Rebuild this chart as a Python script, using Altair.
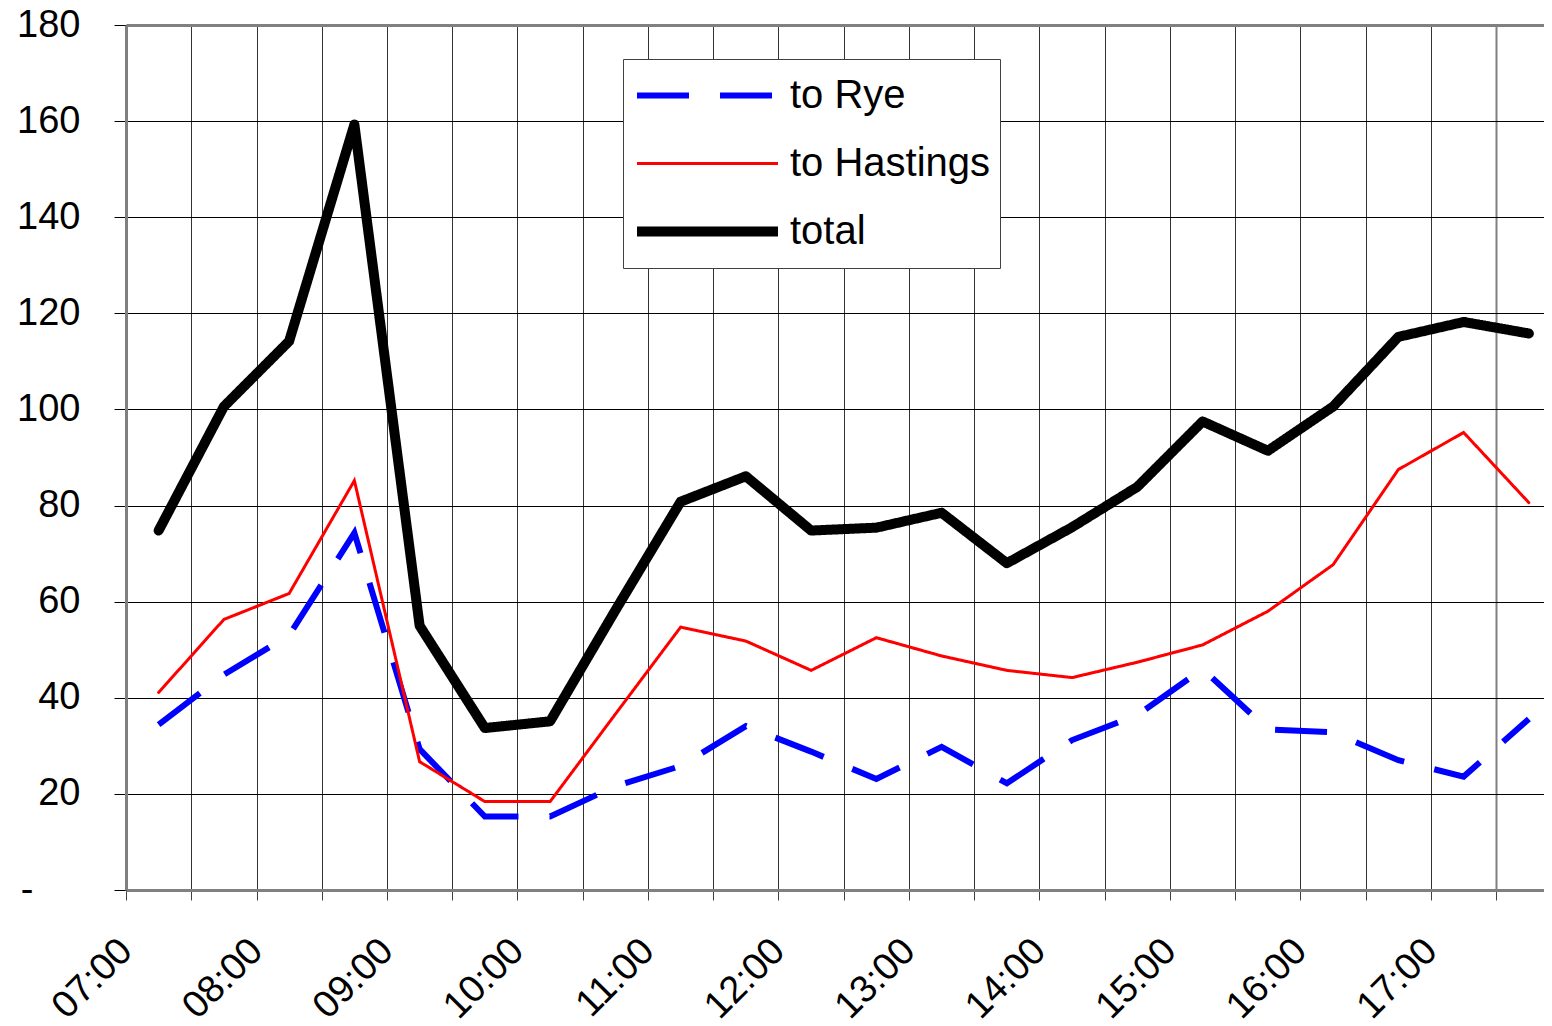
import altair as alt
import pandas as pd

# ---- data ----
times = ["07:15", "07:45", "08:15", "08:45", "09:15", "09:45", "10:15", "10:45",
         "11:15", "11:45", "12:15", "12:45", "13:15", "13:45", "14:15", "14:45",
         "15:15", "15:45", "16:15", "16:45", "17:15", "17:45"]
to_rye = [34.4, 44.8, 53.0, 74.3, 29.3, 15.3, 15.3, 21.6, 25.8, 34.1, 28.8, 23.1,
          29.8, 22.2, 31.2, 36.4, 46.0, 33.4, 32.8, 27.0, 23.6, 35.6]
to_hastings = [41.1, 56.3, 61.7, 85.2, 26.7, 18.4, 18.4, 36.6, 54.7, 51.8, 45.7, 52.5,
               48.7, 45.7, 44.2, 47.4, 51.0, 58.0, 67.7, 87.5, 95.2, 80.6]
total = [74.8, 100.6, 114.2, 159.3, 55.0, 33.7, 35.1, 58.2, 80.8, 86.1, 74.8, 75.4,
         78.5, 68.0, 75.5, 83.9, 97.5, 91.4, 100.6, 115.1, 118.2, 115.8]

series_names = ["to Rye", "to Hastings", "total"]
series_colors = ["#0000FF", "#FF0000", "#000000"]
series_widths = [6, 3, 10]
series_dashes = [[52, 31], [1, 0], [1, 0]]

x_ticks = [7.0, 7.5, 8.0, 8.5, 9.0, 9.5, 10.0, 10.5, 11.0, 11.5, 12.0, 12.5,
           13.0, 13.5, 14.0, 14.5, 15.0, 15.5, 16.0, 16.5, 17.0, 17.5]
y_ticks = [0, 20, 40, 60, 80, 100, 120, 140, 160, 180]

rows = []
for name, vals in zip(series_names, [to_rye, to_hastings, total]):
    for t, v in zip(times, vals):
        h, m = t.split(":")
        rows.append({"hour": int(h) + int(m) / 60.0, "series": name, "value": v})
df = pd.DataFrame(rows)

FONT = "Liberation Sans"
PLOT_W = 1418
PLOT_H = 865
PX_PER_HOUR = 130.5
X_MAX = 7 + PLOT_W / PX_PER_HOUR

legend = alt.Legend(
    title=None, orient="none", legendX=497, legendY=34, direction="vertical",
    fillColor="white", strokeColor="#404040", padding=9,
    symbolType="stroke", symbolSize=141 * 141, clipHeight=55, rowPadding=13,
    labelFontSize=40, labelFont=FONT, labelColor="black", labelOffset=7,
    labelLimit=400,
)

x_enc = alt.X(
    "hour:Q",
    scale=alt.Scale(domain=[7, X_MAX], nice=False, zero=False),
    axis=alt.Axis(
        values=x_ticks, title=None,
        labelExpr="datum.value % 1 == 0 ? (datum.value < 10 ? '0' : '') + datum.value + ':00' : ''",
        labelAngle=-45, labelAlign="right", labelBaseline="middle", labelPadding=45,
        labelFontSize=38, labelFont=FONT, labelColor="black", labelOverlap=False,
        labelFlush=False, tickSize=10, tickColor="#404040", tickWidth=1,
        domainColor="#808080", domainWidth=3, grid=True,
        gridColor=alt.condition("datum.value == 17.5", alt.value("#808080"), alt.value("#333333")),
        gridWidth=alt.condition("datum.value == 17.5", alt.value(2), alt.value(1)),
    ),
)
y_enc = alt.Y(
    "value:Q",
    scale=alt.Scale(domain=[0, 180], nice=False),
    axis=alt.Axis(
        values=y_ticks, title=None,
        labelExpr="datum.value == 0 ? '-' : datum.label",
        labelFontSize=38, labelFont=FONT, labelColor="black",
        labelPadding=alt.condition("datum.value == 0", alt.value(81), alt.value(34)),
        tickSize=12, tickColor="black", tickWidth=1,
        domainColor="#808080", domainWidth=3, grid=True,
        gridColor=alt.condition("datum.value == 180", alt.value("#808080"), alt.value("#000000")),
        gridWidth=alt.condition("datum.value == 180", alt.value(3), alt.value(1)),
    ),
)
color_enc = alt.Color("series:N", scale=alt.Scale(domain=series_names, range=series_colors), legend=legend)
dash_enc = alt.StrokeDash("series:N", scale=alt.Scale(domain=series_names, range=series_dashes), legend=legend)
width_enc = alt.StrokeWidth("series:N", scale=alt.Scale(type="ordinal", domain=series_names, range=series_widths), legend=legend)

base = alt.Chart(df).encode(x=x_enc, y=y_enc, color=color_enc, strokeDash=dash_enc, strokeWidth=width_enc)

layers = []
caps = {"to Rye": ("butt", "miter"), "to Hastings": ("round", "miter"), "total": ("round", "round")}
for name in series_names:
    cap, join = caps[name]
    layers.append(
        base.transform_filter(alt.datum.series == name).mark_line(strokeCap=cap, strokeJoin=join)
    )

chart = alt.layer(*layers).properties(
    width=PLOT_W, height=PLOT_H,
    autosize=alt.AutoSizeParams(type="none"),
    padding={"left": 118, "top": 17, "right": 0, "bottom": 140},
).configure(font=FONT).configure_view(stroke=None)

chart.save("out.html", embed_options={"renderer": "svg", "actions": False})
